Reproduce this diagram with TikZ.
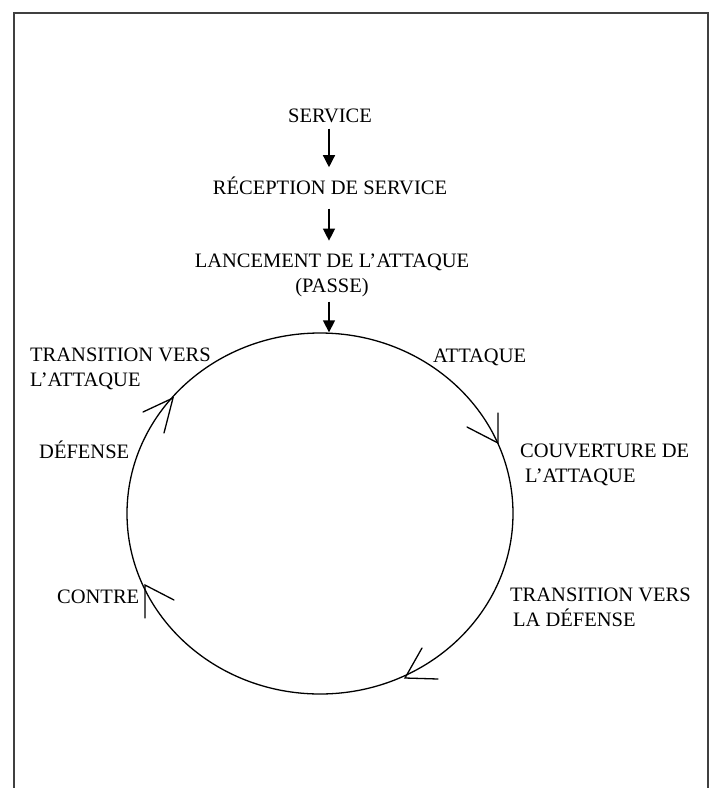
\documentclass[tikz,border=0pt]{standalone}
\usepackage{fontspec}
\setmainfont{Liberation Serif}
\usetikzlibrary{arrows.meta,shapes.geometric}
\begin{document}
\begin{tikzpicture}[x=1pt,y=-1pt,
  lbl/.style={inner sep=0pt, font=\fontsize{20.5}{24.5}\selectfont},
  farrow/.style={line width=1.3pt, -{Triangle[length=12pt,width=12pt]}},
  barb/.style={line width=1.3pt, line cap=round},
  framel/.style={line width=2pt, draw=black!75}]
\useasboundingbox (0,0) rectangle (714,788);
\draw[framel] (14,788) -- (14,13) -- (707.5,13) -- (707.5,788);

\node[lbl, anchor=base] (service) at (330,122) {SERVICE};
\node[lbl, anchor=base] (reception) at (330,194) {RÉCEPTION DE SERVICE};
\node[lbl, anchor=base, align=center] (lancement) at (332,292) {LANCEMENT DE L’ATTAQUE\\(PASSE)};

\node[ellipse, draw, line width=1.3pt, inner sep=0pt, minimum width=386pt, minimum height=361pt] (cycle) at (320,513.5) {};

\node[lbl, anchor=base west, align=left] (transatt) at (30,386) {TRANSITION VERS\\L’ATTAQUE};
\node[lbl, anchor=base west] (attaque) at (433,362) {ATTAQUE};
\node[lbl, anchor=base west] (defense) at (39,458) {DÉFENSE};
\node[lbl, anchor=base west, align=left] (couv) at (520,482) {COUVERTURE DE\\\hspace{5pt}L’ATTAQUE};
\node[lbl, anchor=base west] (contre) at (57,603) {CONTRE};
\node[lbl, anchor=base west, align=left] (transdef) at (510,626) {TRANSITION VERS\\\hspace{3pt}LA DÉFENSE};

\draw[farrow, shorten <=6pt, shorten >=9pt] (service.south -| 329,0) -- (reception.north -| 329,0);
\draw[farrow, shorten <=14pt, shorten >=13pt] (reception.south -| 329,0) -- (lancement.north -| 329,0);
\draw[farrow, shorten <=5pt] (lancement.south -| 329,0) -- (cycle.north -| 329,0);

% open arrowheads on the cycle
\coordinate (t1) at (498,443);
\draw[barb] (498,413) -- (t1) -- (467,427);
\coordinate (t2) at (405,678);
\draw[barb] (438,679) -- (t2) -- (422,648);
\coordinate (t3) at (145,585);
\draw[barb] (145,618) -- (t3) -- (174,600);
\coordinate (t4) at (173,398);
\draw[barb] (143,412) -- (t4) -- (164,433);
\end{tikzpicture}
\end{document}
